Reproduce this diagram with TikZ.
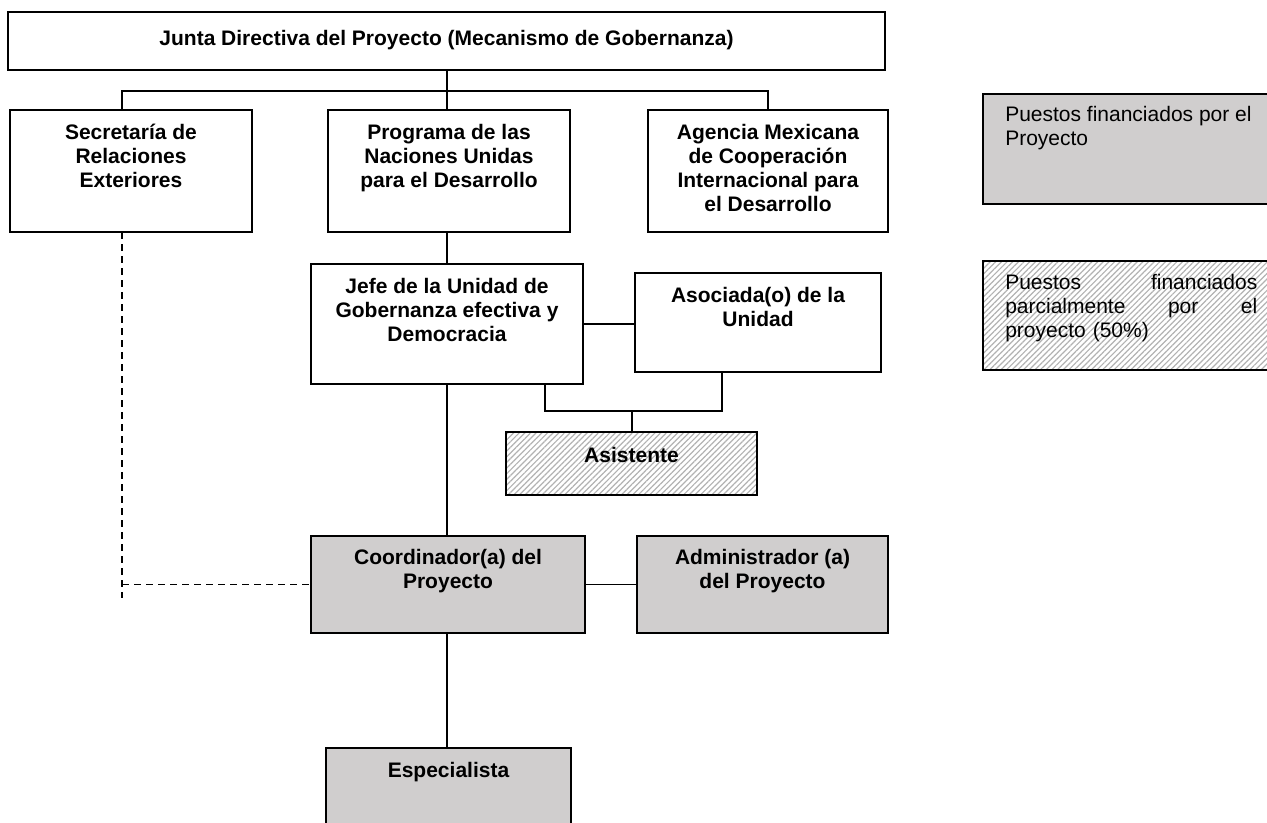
\documentclass[tikz,border=0pt]{standalone}
\usepackage{fontspec}
\setmainfont{Liberation Sans}
\usetikzlibrary{fit,patterns.meta}
\definecolor{boxgray}{RGB}{208,206,206}
\definecolor{hatchgray}{RGB}{178,178,178}
\begin{document}
\begin{tikzpicture}[x=0.75pt,y=-0.75pt,
  frame/.style={draw=black,line width=1.5pt,inner sep=0pt,outer sep=0pt},
  whitebox/.style={frame,fill=white},
  graybox/.style={frame,fill=boxgray},
  hatchbox/.style={frame,pattern={Lines[angle=45,distance=3pt,line width=0.9pt]},pattern color=hatchgray},
  lbl/.style={font=\bfseries\fontsize{15.75pt}{18pt}\selectfont,align=center,inner sep=0pt,anchor=north},
  legtxt/.style={font=\fontsize{15.75pt}{18pt}\selectfont,align=left,inner sep=0pt,anchor=north west},
  conn/.style={draw=black,line width=1.3pt},
  dashline/.style={draw=black,line width=1.3pt,dash pattern=on 5.25pt off 3.75pt}]
\useasboundingbox (0,0) rectangle (1267,822);

% boxes
\node[whitebox,fit={(8,12) (885,70)}] (junta) {};
\node[whitebox,fit={(10,110) (252,232)}] (sre) {};
\node[whitebox,fit={(328,110) (570,232)}] (pnud) {};
\node[whitebox,fit={(648,110) (888,232)}] (amexcid) {};
\node[whitebox,fit={(311,264) (583,384)}] (jefe) {};
\node[whitebox,fit={(635,273) (881,372)}] (asoc) {};
\node[hatchbox,fit={(506,432) (757,495)}] (asis) {};
\node[graybox,fit={(311,536) (585,633)}] (coord) {};
\node[graybox,fit={(637,536) (888,633)}] (admin) {};
\node[graybox,fit={(326,748) (571,830)}] (esp) {};
\node[graybox,fit={(983,94) (1275,204)}] (leg1) {};
\node[hatchbox,fit={(983,261) (1275,370)}] (leg2) {};

% texts
\node[lbl,anchor=center] (junta-t) at ([yshift=1pt]junta.center) {Junta Directiva del Proyecto (Mecanismo de Gobernanza)};
\node[lbl] (sre-t) at ([yshift=-10.5pt]sre.north) {Secretaría de\\Relaciones\\Exteriores};
\node[lbl] (pnud-t) at ([yshift=-10.5pt]pnud.north) {Programa de las\\Naciones Unidas\\para el Desarrollo};
\node[lbl] (amexcid-t) at ([yshift=-10.5pt]amexcid.north) {Agencia Mexicana\\de Cooperación\\Internacional para\\el Desarrollo};
\node[lbl] (jefe-t) at ([yshift=-10.5pt]jefe.north) {Jefe de la Unidad de\\Gobernanza efectiva y\\Democracia};
\node[lbl] (asoc-t) at ([yshift=-10.5pt]asoc.north) {Asociada(o) de la\\Unidad};
\node[lbl] (asis-t) at ([yshift=-11pt]asis.north) {Asistente};
\node[lbl] (coord-t) at ([yshift=-9.75pt]coord.north) {Coordinador(a) del\\Proyecto};
\node[lbl] (admin-t) at ([yshift=-9.75pt]admin.north) {Administrador (a)\\del Proyecto};
\node[lbl] (esp-t) at ([yshift=-10.5pt]esp.north) {Especialista};
\node[legtxt] (leg1-t) at ([xshift=16.5pt,yshift=-9pt]leg1.north west) {Puestos financiados por el\\Proyecto};
\node[legtxt,text width=189pt] (leg2-t) at ([xshift=16.5pt,yshift=-9.75pt]leg2.north west) {Puestos\hfill financiados\\parcialmente\hfill por\hfill el\\proyecto (50\%)};

% connectors
\coordinate (bus) at (447,91);
\draw[conn] (junta.south -| bus) -- (bus);
\draw[conn] ([xshift=-6.75pt]sre.north) |- (bus) -| (amexcid.north);
\draw[conn] (bus) -- (bus |- pnud.north);
\draw[conn] (pnud.south -| bus) -- (jefe.north -| bus);
\draw[conn] (jefe.east) -- (jefe.east -| asoc.west);
\coordinate (abus) at (632,411);
\draw[conn] ([xshift=73.5pt]jefe.south) |- (abus) -| ([xshift=-27pt]asoc.south);
\draw[conn] (abus) -- (asis.north -| abus);
\draw[conn] (jefe.south -| bus) -- (coord.north -| bus);
\draw[conn] (coord.east) -- (coord.east -| admin.west);
\draw[conn] (coord.south -| bus) -- (esp.north -| bus);
\coordinate (dend) at (122,598);
\draw[dashline] ([xshift=-6.75pt]sre.south) -- (dend);
\draw[dashline] (dend |- coord.west) -- (coord.west);
\end{tikzpicture}
\end{document}
